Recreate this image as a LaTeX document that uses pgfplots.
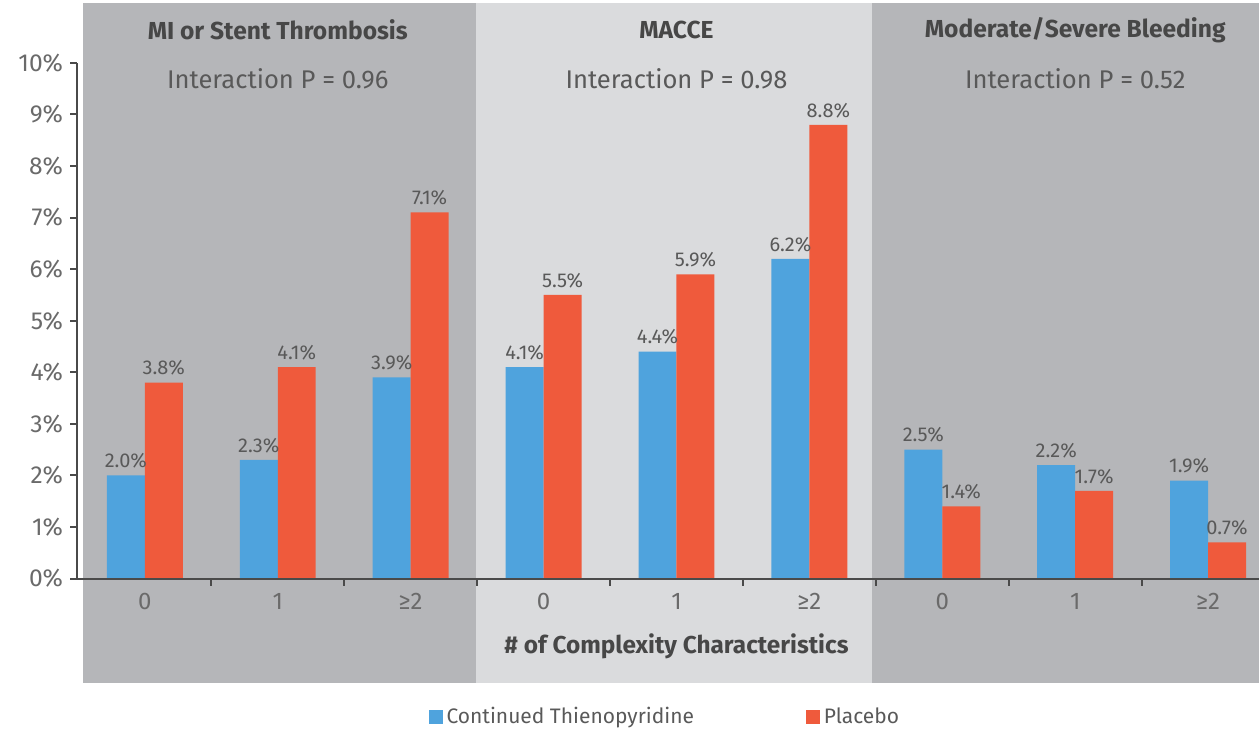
\documentclass[border=0pt]{standalone}
\usepackage{pgfplots}
\pgfplotsset{compat=1.18}
\usepackage{fontspec}
\setmainfont{Fira Sans}
\definecolor{cblue}{HTML}{4FA3DD}
\definecolor{cred}{HTML}{EF5A3C}
\definecolor{pdark}{HTML}{B5B6B9}
\definecolor{plight}{HTML}{DADBDD}
\definecolor{txt}{HTML}{474747}
\definecolor{txtl}{HTML}{595959}
\definecolor{tickc}{HTML}{6A6A6A}
\definecolor{axl}{HTML}{4A4A4A}
\pgfplotsset{sqlegend/.style={legend image code/.code={\fill[##1] (0pt,-3.5pt) rectangle (7pt,3.5pt);}}}
\begin{document}
\begin{tikzpicture}
\begin{axis}[
  x=66.5pt, y=25.8pt,
  xmin=-0.51, xmax=8.383, ymin=0, ymax=10,
  axis x line*=bottom, axis y line*=left,
  axis line style={axl, line width=1pt},
  clip=false, axis on top,
  ybar=0pt, bar width=19pt,
  xtick={0.5,1.5,...,7.5}, xticklabels={},
  extra x ticks={0,1,2,3,4,5,6,7,8},
  extra x tick labels={0,1,≥2,0,1,≥2,0,1,≥2},
  extra x tick style={major tick length=0pt},
  ytick={0,1,...,10},
  yticklabel={\pgfmathprintnumber{\tick}\%},
  /pgf/number format/assume math mode=true,
  tick align=outside,
  major tick length=3.5pt,
  tick style={axl, line width=1pt},
  xticklabel style={font=\fontsize{12}{14}\selectfont, text=tickc, yshift=-4pt},
  yticklabel style={font=\fontsize{12.3}{14}\selectfont, text=tickc},
  nodes near coords={\pgfmathprintnumber[fixed,fixed zerofill,precision=1]{\pgfplotspointmeta}\%},
  every node near coord/.append style={font=\fontsize{10}{12}\selectfont, text=txtl},
  legend style={at={(axis cs:3.92,-2.69)}, anchor=center, draw=none, fill=none,
    font=\fontsize{10.5}{12}\selectfont, text=txtl,
    /tikz/every even column/.append style={column sep=54pt}},
  legend columns=2,
]
\path (axis cs:-1.09,-2.984) rectangle (axis cs:8.383,11.22);
\fill[pdark] (axis cs:-0.466,-2.035) rectangle (axis cs:2.489,11.16);
\fill[plight] (axis cs:2.489,-2.035) rectangle (axis cs:5.474,11.16);
\fill[pdark] (axis cs:5.474,-2.035) rectangle (axis cs:8.383,11.16);
\addplot[draw=none, fill=cblue, sqlegend] coordinates {(0,2.0) (1,2.3) (2,3.9) (3,4.1) (4,4.4) (5,6.2) (6,2.5) (7,2.2) (8,1.9)};
\addlegendentry{Continued Thienopyridine}
\addplot[draw=none, fill=cred, sqlegend] coordinates {(0,3.8) (1,4.1) (2,7.1) (3,5.5) (4,5.9) (5,8.8) (6,1.4) (7,1.7) (8,0.7)};
\addlegendentry{Placebo}
\node[font=\bfseries\fontsize{12.3}{14}\selectfont, text=txt] at (axis cs:1,10.64) {MI or Stent Thrombosis};
\node[font=\fontsize{12.8}{14}\selectfont, text=txtl] at (axis cs:1,9.69) {Interaction P = 0.96};
\node[font=\bfseries\fontsize{12.3}{14}\selectfont, text=txt] at (axis cs:4,10.64) {MACCE};
\node[font=\fontsize{12.8}{14}\selectfont, text=txtl] at (axis cs:4,9.69) {Interaction P = 0.98};
\node[font=\bfseries\fontsize{12.3}{14}\selectfont, text=txt] at (axis cs:7,10.64) {Moderate/Severe Bleeding};
\node[font=\fontsize{12.8}{14}\selectfont, text=txtl] at (axis cs:7,9.69) {Interaction P = 0.52};
\node[font=\bfseries\fontsize{12.2}{14}\selectfont, text=txt] at (axis cs:4,-1.32) {\# of Complexity Characteristics};
\end{axis}
\end{tikzpicture}
\end{document}
